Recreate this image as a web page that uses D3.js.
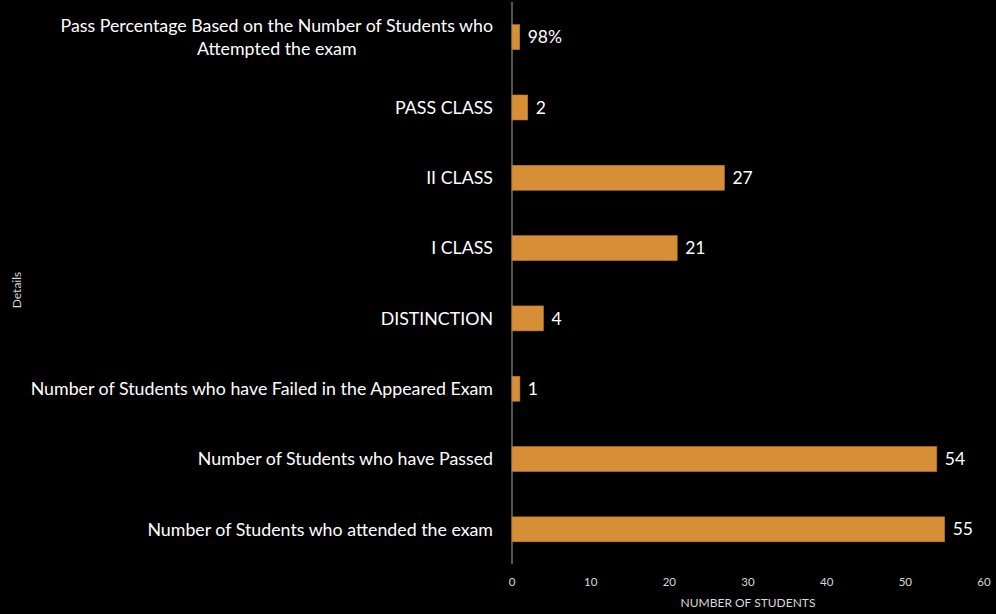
<!DOCTYPE html>
<html><head><meta charset="utf-8">
<script src="https://cdn.jsdelivr.net/npm/d3@7"></script>
<style>body{margin:0;background:#000;}svg{display:block;}</style>
</head><body>
<svg id="c" width="996" height="614"></svg>
<script>
const categories = [
  ["Pass Percentage Based on the Number of Students who", "Attempted the exam"],
  ["PASS CLASS"],
  ["II CLASS"],
  ["I CLASS"],
  ["DISTINCTION"],
  ["Number of Students who have Failed in the Appeared Exam"],
  ["Number of Students who have Passed"],
  ["Number of Students who attended the exam"]
];
const values = [0.98, 2, 27, 21, 4, 1, 54, 55];
const valueLabels = ["98%", "2", "27", "21", "4", "1", "54", "55"];
const xTicks = [0, 10, 20, 30, 40, 50, 60];
const xTitle = "NUMBER OF STUDENTS";
const yTitle = "Details";

const svg = d3.select("#c");
svg.append("rect").attr("width", 996).attr("height", 614).attr("fill", "#000");
const FONT = "Lato, 'Open Sans', sans-serif";
const x = d3.scaleLinear().domain([0, 60]).range([512, 984]);
const y = d3.scaleBand().domain(d3.range(categories.length)).range([2, 564.5]).paddingInner(0.645).paddingOuter(0.3225);

// axis line
svg.append("line").attr("x1", x(0)).attr("x2", x(0)).attr("y1", 2).attr("y2", 564)
  .attr("stroke", "#a6a6a6").attr("stroke-width", 1);

// bars
svg.selectAll("rect.bar").data(values).join("rect").attr("class", "bar")
  .attr("x", x(0)).attr("y", (d, i) => y(i))
  .attr("width", d => x(d) - x(0)).attr("height", y.bandwidth())
  .attr("fill", "#d68f36").attr("stroke", "#b8782c").attr("stroke-width", 0.6);

// value labels
svg.selectAll("text.val").data(values).join("text").attr("class", "val")
  .attr("x", d => x(d) + 8).attr("y", (d, i) => y(i) + y.bandwidth() / 2)
  .attr("dy", "0.35em").attr("fill", "#fff").attr("font-family", FONT).attr("font-size", 17.5)
  .text((d, i) => valueLabels[i]);

// category labels
const right = 493;
categories.forEach((lines, i) => {
  const cy = y(i) + y.bandwidth() / 2;
  const lh = 23;
  const g = svg.append("g");
  const ts = lines.map((ln, k) => g.append("text")
    .attr("y", cy + (k - (lines.length - 1) / 2) * lh).attr("dy", "0.35em")
    .attr("fill", "#fff").attr("font-family", FONT).attr("font-size", 17.8).text(ln));
  const maxW = d3.max(ts, t => t.node().getComputedTextLength());
  ts.forEach(t => t.attr("x", right - maxW / 2).attr("text-anchor", "middle"));
});

// x tick labels
svg.selectAll("text.tick").data(xTicks).join("text").attr("class", "tick")
  .attr("x", d => x(d)).attr("y", 582).attr("dy", "0.35em").attr("text-anchor", "middle")
  .attr("fill", "#d9d9d9").attr("font-family", FONT).attr("font-size", 11.5).text(d => d);

svg.append("text").attr("x", 748).attr("y", 603).attr("dy", "0.35em").attr("text-anchor", "middle")
  .attr("fill", "#d9d9d9").attr("font-family", FONT).attr("font-size", 12).text(xTitle);

svg.append("text").attr("transform", "translate(17,290) rotate(-90)").attr("dy", "0.35em")
  .attr("text-anchor", "middle").attr("fill", "#d9d9d9").attr("font-family", FONT).attr("font-size", 12).text(yTitle);
</script>
</body></html>
